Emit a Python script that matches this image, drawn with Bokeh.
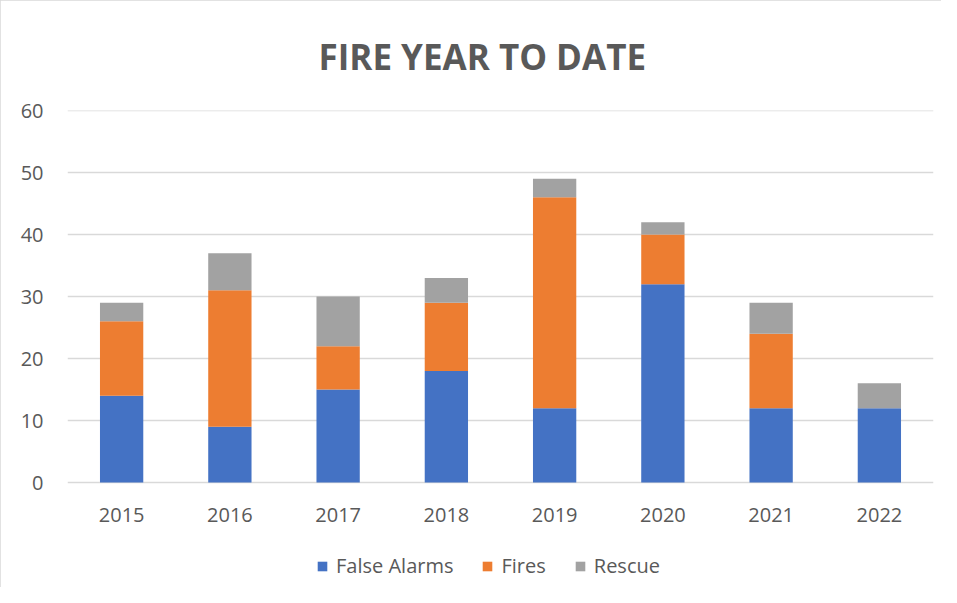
from bokeh.plotting import figure
from bokeh.models import Legend, LegendItem, FixedTicker, Range1d
from bokeh.core.properties import value
from bokeh.embed import file_html
from bokeh.resources import INLINE

years = ["2015", "2016", "2017", "2018", "2019", "2020", "2021", "2022"]
false_alarms = [14, 9, 15, 18, 12, 32, 12, 12]
fires = [12, 22, 7, 11, 34, 8, 12, 0]
rescue = [3, 6, 8, 4, 3, 2, 5, 4]
series = ["False Alarms", "Fires", "Rescue"]
colors = ["#4472C4", "#ED7D31", "#A2A2A2"]
y_ticks = [0, 10, 20, 30, 40, 50, 60]

data = {"years": years, "False Alarms": false_alarms, "Fires": fires, "Rescue": rescue,
        "base": [0] * len(years)}

TXT = "#595959"
FONT = "Open Sans"

# frame extends below the zero line to leave room for year labels and legend
p = figure(x_range=years, y_range=Range1d(-16.61, 60.01), width=941, height=587,
           output_backend="svg", toolbar_location=None, x_axis_location=None,
           min_border_left=67, min_border_right=8, min_border_top=110, min_border_bottom=2)

renderers = p.vbar_stack(series, x="years", width=0.4, color=colors, source=data, line_color=None)

p.text(x="years", y="base", text="years", source=data, text_align="center",
       text_baseline="top", y_offset=25, text_font=value(FONT), text_font_size="20px",
       text_color=TXT)

p.title.text = "FIRE YEAR TO DATE"
p.title.align = "left"
p.title.text_font = FONT
p.title.text_font_size = "35px"
p.title.text_font_style = "bold"
p.title.text_color = TXT
p.title.standoff = 61
p.title.offset = 251

p.outline_line_color = None
p.background_fill_color = "white"
p.border_fill_color = "white"
p.styles = {"outline": "1px solid #d9d9d9", "outline-offset": "-1px"}

p.xgrid.grid_line_color = None
p.ygrid.grid_line_color = "#d9d9d9"
p.ygrid.grid_line_width = 1.5

p.yaxis.ticker = FixedTicker(ticks=y_ticks)
ax = p.yaxis[0]
ax.axis_line_color = None
ax.major_tick_line_color = None
ax.minor_tick_line_color = None
ax.major_label_text_font = FONT
ax.major_label_text_font_size = "20px"
ax.major_label_text_color = TXT
ax.major_label_standoff = 18

legend = Legend(items=[LegendItem(label=s, renderers=[r]) for s, r in zip(series, renderers)],
                orientation="horizontal", location=(249, 6))
legend.label_text_font = FONT
legend.label_text_font_size = "20px"
legend.label_text_color = TXT
legend.glyph_width = 12
legend.glyph_height = 12
legend.label_standoff = 8
legend.spacing = 28
legend.border_line_color = None
legend.background_fill_alpha = 0
legend.padding = 0
legend.margin = 0
p.add_layout(legend)

open("out.html", "w").write(file_html(p, INLINE))
